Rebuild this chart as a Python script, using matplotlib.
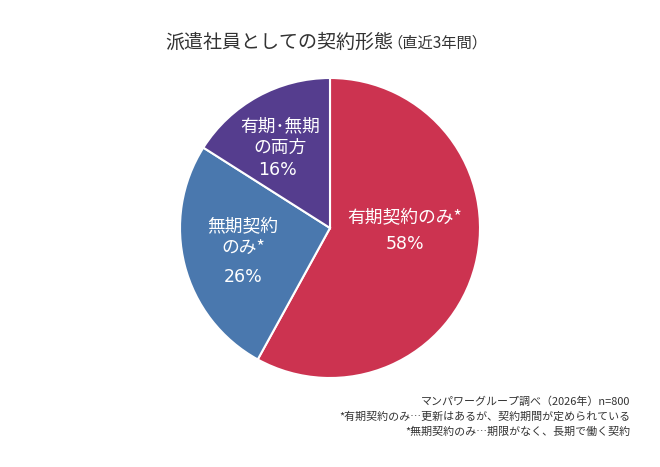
import matplotlib.pyplot as plt

plt.rcParams['font.family'] = ['Noto Sans CJK JP', 'DejaVu Sans']

# data
labels = ['有期契約のみ*', '無期契約\nのみ*', '有期･無期\nの両方']
shares = [58, 26, 16]
colors = ['#cc3350', '#4a78ae', '#553d8e']
notes = ['マンパワーグループ調べ（2026年）n=800',
         '*有期契約のみ…更新はあるが、契約期間が定められている',
         '*無期契約のみ…期限がなく、長期で働く契約']

W, H = 660, 467
fig = plt.figure(figsize=(W / 100, H / 100), dpi=100)
ax = fig.add_axes([0, 0, 1, 1])

ax.pie(shares, colors=colors, startangle=90, counterclock=False,
       center=(330, H - 228), radius=150, frame=True,
       wedgeprops=dict(edgecolor='white', linewidth=1.5))
ax.set_xlim(0, W)
ax.set_ylim(0, H)
ax.set_aspect('equal')
ax.axis('off')

# label positions in pixel coordinates (x, y from top)
label_pos = [(405, 218), (243, 238), (280, 137)]
pct_pos = [(405, 244), (243, 277), (278, 170)]
for lab, s, (lx, ly), (px, py) in zip(labels, shares, label_pos, pct_pos):
    ax.text(lx, H - ly, lab, color='white', fontsize=12.8, ha='center',
            va='center', linespacing=1.2)
    ax.text(px, H - py, f'{s}%', color='white', fontsize=12.5, ha='center',
            va='center', family='DejaVu Sans')

ax.text(393, H - 42, '派遣社員としての契約形態', fontsize=13.7, color='#333333',
        ha='right', va='center')
ax.text(387, H - 43, '（直近3年間）', fontsize=11, color='#333333',
        ha='left', va='center')

for i, n in enumerate(notes):
    ax.text(630, H - (402 + i * 15), n, fontsize=7.9, color='#333333',
            ha='right', va='center')

fig.savefig('out.png', dpi=100, facecolor='white')
